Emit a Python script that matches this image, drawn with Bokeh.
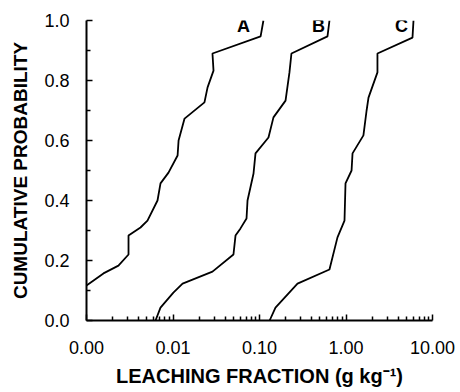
from bokeh.plotting import figure
from bokeh.models import Range1d, FixedTicker, NumeralTickFormatter, ColumnDataSource
from bokeh.core.properties import value
from bokeh.embed import file_html
from bokeh.resources import INLINE

# Curve A
a_x = [0.00100, 0.00157, 0.00234, 0.00306, 0.00306, 0.00421, 0.00507, 0.00662, 0.00717,
       0.00887, 0.0113, 0.0116, 0.0136, 0.0231, 0.0251, 0.0294, 0.0286, 0.103, 0.111]
a_p = [0.117, 0.157, 0.183, 0.22, 0.283, 0.31, 0.333, 0.40, 0.457,
       0.493, 0.55, 0.60, 0.673, 0.727, 0.777, 0.833, 0.89, 0.947, 1.0]
# Curve B
b_x = [0.00628, 0.00717, 0.0101, 0.0129, 0.0286, 0.0500, 0.0528, 0.0603, 0.0708, 0.0727,
       0.0853, 0.0899, 0.127, 0.145, 0.200, 0.222, 0.234, 0.611, 0.644]
b_p = [0.0, 0.043, 0.093, 0.123, 0.163, 0.22, 0.283, 0.307, 0.34, 0.40,
       0.49, 0.557, 0.61, 0.677, 0.733, 0.827, 0.89, 0.947, 1.0]
# Curve C
c_x = [0.131, 0.153, 0.275, 0.644, 0.797, 0.961, 0.987, 1.16, 1.19, 1.59,
       1.73, 1.82, 2.31, 2.31, 5.87, 6.03]
c_p = [0.0, 0.043, 0.123, 0.17, 0.277, 0.333, 0.457, 0.50, 0.557, 0.617,
       0.70, 0.743, 0.827, 0.89, 0.943, 1.0]

labels = ["A", "B", "C"]
label_x = [0.0653, 0.481, 4.38]
label_y = [0.983, 0.983, 0.983]

x_major = [0.001, 0.01, 0.1, 1, 10]
x_minor = [k * 10.0 ** e for e in range(-3, 1) for k in range(2, 10)]
y_major = [0.0, 0.2, 0.4, 0.6, 0.8, 1.0]
y_minor = [0.1, 0.3, 0.5, 0.7, 0.9]

p = figure(width=460, height=392, x_axis_type="log",
           x_range=Range1d(0.001, 10), y_range=Range1d(0, 1),
           output_backend="svg", toolbar_location=None,
           min_border_left=86, min_border_right=28, min_border_top=20, min_border_bottom=72)
p.outline_line_color = None
p.xgrid.visible = False
p.ygrid.visible = False
p.background_fill_color = "white"
p.border_fill_color = "white"

FONT = "Liberation Sans"

for x, y in [(a_x, a_p), (b_x, b_p), (c_x, c_p)]:
    p.line(x, y, line_color="black", line_width=1.8)

src = ColumnDataSource(dict(x=label_x, y=label_y, t=labels))
p.text(x="x", y="y", text="t", source=src, text_align="center", text_baseline="middle",
       text_font=value(FONT), text_font_style="bold", text_font_size="18px", text_color="black")

p.xaxis.ticker = FixedTicker(ticks=x_major, minor_ticks=x_minor)
p.xaxis.formatter = NumeralTickFormatter(format="0.00")
p.yaxis.ticker = FixedTicker(ticks=y_major, minor_ticks=y_minor)
p.yaxis.formatter = NumeralTickFormatter(format="0.0")

for ax in (p.xaxis[0], p.yaxis[0]):
    ax.axis_line_width = 2
    ax.axis_line_color = "black"
    ax.major_tick_in = 6
    ax.major_tick_out = 0
    ax.minor_tick_in = 4
    ax.minor_tick_out = 0
    ax.major_tick_line_width = 1.5
    ax.minor_tick_line_width = 1.5
    ax.major_label_text_font = FONT
    ax.major_label_text_font_size = "18px"
    ax.major_label_text_color = "black"
    ax.axis_label_text_font = FONT
    ax.axis_label_text_font_style = "bold"
    ax.axis_label_text_color = "black"

p.xaxis.axis_label_text_font_size = "20px"
p.yaxis.axis_label_text_font_size = "19px"
p.xaxis.axis_label = "LEACHING FRACTION (g kg⁻¹)"
p.yaxis.axis_label = "CUMULATIVE PROBABILITY"
p.xaxis.major_label_standoff = 20
p.yaxis.major_label_standoff = 17
p.xaxis.axis_label_standoff = 8
p.yaxis.axis_label_standoff = 10

open("out.html", "w").write(file_html(p, INLINE))
